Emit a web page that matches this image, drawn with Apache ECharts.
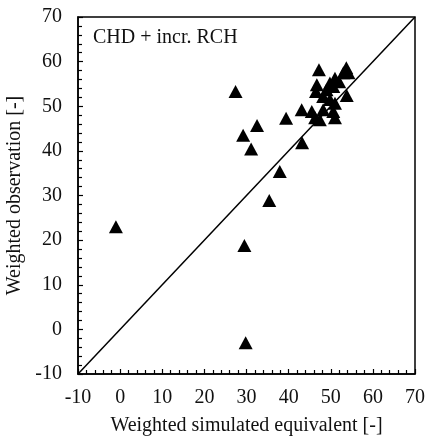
<!DOCTYPE html>
<html>
<head>
<meta charset="utf-8">
<script src="https://cdn.jsdelivr.net/npm/echarts@6/dist/echarts.min.js"></script>
<style>html,body{margin:0;padding:0;background:#fff;}#c{width:427px;height:437px;}</style>
</head>
<body>
<div id="c"></div>
<script>
const simulated = [-1, 29.8, 29.5, 35.4, 37.9, 27.4, 29.2, 31.1, 32.5, 39.4, 43.1, 43.2, 47.2, 53.7, 53.8, 53.0, 51.0, 49.8, 46.7, 46.5, 49.0, 50.6, 48.2, 49.8, 51.0, 45.5, 46.3, 48.2, 50.6, 51.0, 47.4, 54.2, 52.0];
const observed  = [23, -3, 18.8, 28.9, 35.4, 53.3, 43.5, 40.4, 45.7, 47.3, 49.2, 41.8, 58.2, 58.6, 52.4, 57.5, 56.3, 55.2, 54.8, 53.3, 53.7, 54.4, 52.2, 51.5, 50.7, 48.8, 47.4, 49.2, 48.8, 47.4, 47.0, 57.5, 55.5];
const oneToOne = [-10, 70];
const axisMin = -10, axisMax = 70, axisStep = 10;
const panelLabel = 'CHD + incr. RCH';
const xTitle = 'Weighted simulated equivalent [-]';
const yTitle = 'Weighted observation [-]';

const font = 'Liberation Serif';
const chart = echarts.init(document.getElementById('c'), null, {renderer: 'canvas'});
const axisCommon = {
  type: 'value', min: axisMin, max: axisMax, interval: axisStep,
  axisLine: {show: true, onZero: false, lineStyle: {color: '#000', width: 1.5}},
  axisTick: {show: true, inside: true, length: 5, lineStyle: {color: '#000', width: 1.2}},
  minorTick: {show: true, splitNumber: 5, length: 4, lineStyle: {color: '#000', width: 1.2}},
  splitLine: {show: false},
  axisLabel: {fontFamily: font, fontSize: 20, color: '#111'},
  nameLocation: 'middle',
  nameTextStyle: {fontFamily: font, fontSize: 20, color: '#111'}
};
chart.setOption({
  animation: false,
  backgroundColor: '#fff',
  grid: {left: 78, right: 12, top: 17, bottom: 63, show: true, borderColor: '#000', borderWidth: 1.5, containLabel: false, outerBoundsMode: 'none'},
  xAxis: Object.assign({}, axisCommon, {name: xTitle, nameGap: 42, axisLabel: Object.assign({}, axisCommon.axisLabel, {margin: 14})}),
  yAxis: Object.assign({}, axisCommon, {name: yTitle, nameGap: 48, axisLabel: Object.assign({}, axisCommon.axisLabel, {margin: 16})}),
  graphic: [{type: 'text', left: 93, top: 28, style: {text: panelLabel, font: '20px "Liberation Serif"', fill: '#111'}}],
  series: [
    {type: 'line', data: oneToOne.map(v => [v, v]), symbol: 'none', lineStyle: {color: '#000', width: 1.5}, silent: true, z: 1},
    {type: 'scatter', data: simulated.map((s, i) => [s, observed[i]]), symbol: 'triangle', symbolSize: [14, 13], itemStyle: {color: '#000', opacity: 1}, z: 2}
  ]
});
</script>
</body>
</html>
